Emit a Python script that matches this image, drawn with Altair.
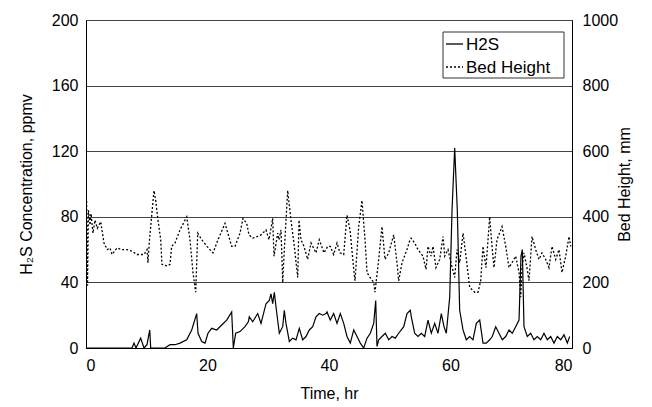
import altair as alt
import pandas as pd

# ---- H2S concentration (ppmv) vs time (hr) ----
h2s_time = [0, 7.24, 7.57, 7.9, 8.23, 9.0, 9.55, 10.04, 10.49, 10.65, 12.18, 13.0, 13.83, 14.65,
            15.47, 16.58, 17.4, 18.22, 18.44, 19.05, 19.59, 20.08, 20.69, 21.51, 22.34, 23.16,
            23.98, 24.25, 24.64, 25.35, 26.17, 26.72, 26.88, 27.44, 28.26, 28.81, 29.63, 30.17,
            30.45, 30.73, 31.0, 31.28, 31.82, 32.38, 32.64, 32.92, 33.47, 34.02, 34.57, 35.11,
            35.67, 36.21, 36.76, 37.32, 37.86, 38.4, 38.96, 39.51, 39.67, 40.21, 40.77, 41.32,
            41.86, 42.42, 42.96, 43.51, 44.07, 44.61, 45.15, 45.71, 46.26, 46.8, 47.36, 47.69,
            47.9, 48.18, 48.72, 49.27, 49.83, 50.37, 50.91, 51.47, 52.3, 52.84, 53.38, 53.55,
            54.1, 54.65, 55.19, 55.75, 56.3, 56.84, 57.4, 57.94, 58.49, 58.93, 59.31, 59.87,
            60.25, 60.69, 61.12, 61.51, 62.06, 62.6, 63.16, 63.7, 64.25, 64.81, 65.35, 65.89,
            66.45, 66.88, 67.44, 67.98, 68.53, 69.09, 69.63, 70.17, 70.73, 71.28, 71.6, 71.82,
            72.1, 72.64, 73.2, 73.74, 74.29, 74.85, 75.39, 75.93, 76.49, 77.04, 77.58, 78.14,
            78.68, 79.23, 79.62]
h2s_ppmv = [0, 0, 0, 3, 0, 6, 0, 2, 11, 0, 0, 0, 2, 2,
            3, 5, 11, 21, 9, 4, 3, 9, 12, 11, 14, 17,
            22, 0, 9, 10, 13, 16, 19, 16, 21, 15, 27, 29,
            33, 27, 34, 25, 9, 13, 23, 15, 4, 6, 5, 12,
            5, 7, 11, 13, 19, 21, 20, 21, 22, 17, 21, 15,
            21, 15, 7, 3, 11, 7, 3, 0, 6, 9, 15, 29,
            1, 5, 7, 9, 5, 7, 6, 9, 13, 21, 23, 19,
            9, 7, 9, 7, 17, 9, 15, 9, 21, 13, 9, 31,
            84, 122, 84, 23, 11, 5, 7, 5, 15, 17, 3, 3,
            5, 7, 13, 9, 5, 7, 11, 9, 13, 17, 56, 60,
            13, 7, 9, 5, 7, 5, 9, 5, 7, 3, 7, 5,
            8, 3, 7]

# ---- Bed height (mm) vs time (hr) ----
bed_time = [0.1, 0.25, 0.4, 0.66, 0.82, 1.15, 1.48, 1.86, 2.42, 2.96, 3.5, 3.95, 4.28, 5.1,
            5.93, 6.75, 7.57, 8.4, 9.55, 10.04, 10.2, 10.45, 11.19, 11.47, 11.85, 12.3, 12.5,
            13.33, 13.83, 14.1, 14.65, 15.47, 16.58, 17.12, 17.61, 18.06, 18.39, 19.05, 19.92,
            20.9, 21.73, 22.88, 23.98, 24.53, 25.35, 25.84, 26.45, 26.83, 27.44, 28.26, 28.81,
            29.63, 30.12, 30.73, 30.95, 31.56, 31.77, 32.1, 32.38, 32.59, 33.2, 33.74, 34.29,
            34.85, 35.06, 35.39, 35.88, 36.49, 37.04, 37.86, 38.4, 39.18, 39.79, 40.21, 40.77,
            41.32, 41.81, 42.42, 42.96, 43.46, 44.07, 44.28, 44.89, 45.43, 45.93, 46.26, 46.75,
            47.36, 47.57, 48.18, 48.72, 49.22, 49.83, 50.65, 51.19, 51.47, 52.02, 52.84, 53.33,
            53.5, 54.1, 54.65, 55.47, 55.97, 56.3, 56.79, 57.12, 57.61, 58.22, 58.77, 59.05,
            59.59, 60.08, 60.69, 61.07, 61.51, 62.06, 62.55, 63.16, 63.98, 64.53, 64.97, 65.35,
            65.84, 66.45, 66.88, 67.16, 67.65, 68.48, 69.09, 69.63, 70.12, 70.73, 71.28, 71.56,
            71.77, 72.1, 72.59, 72.92, 73.42, 74.02, 74.57, 75.06, 75.67, 76.21, 76.71, 77.32,
            77.86, 78.35, 78.96, 79.51, 79.79]
bed_mm = [448, 190, 420, 375, 410, 350, 390, 365, 385, 320, 300, 305, 285, 305,
          300, 300, 295, 285, 285, 300, 260, 330, 480, 450, 390, 330, 255,
          250, 255, 310, 320, 360, 400, 330, 230, 170, 350, 330, 310,
          290, 330, 380, 310, 310, 350, 395, 380, 345, 335, 340, 345,
          360, 330, 395, 280, 350, 330, 360, 200, 280, 480, 390, 310,
          215, 390, 330, 310, 270, 320, 290, 330, 290, 310, 310, 285,
          320, 290, 285, 405, 360, 240, 205, 370, 450, 330, 230, 215,
          200, 170, 270, 370, 270, 290, 345, 260, 205, 260, 300, 330,
          335, 320, 300, 280, 240, 310, 280, 310, 245, 270, 340, 280,
          300, 260, 215, 300, 260, 350, 280, 185, 170, 170, 205, 310,
          245, 400, 300, 245, 330, 370, 310, 245, 260, 280, 230, 155,
          245, 290, 245, 205, 340, 300, 270, 290, 270, 245, 310, 270,
          300, 230, 280, 340, 310]

# legend entries
legend_labels = ["H2S", "Bed Height"]

h2s_df = pd.DataFrame({"t": h2s_time, "v": h2s_ppmv})
bed_df = pd.DataFrame({"t": bed_time, "v": bed_mm})
one = pd.DataFrame({"k": [0]})

FONT = "Liberation Sans"

x_enc = alt.X("t:Q", scale=alt.Scale(domain=[0, 80], nice=False),
              axis=alt.Axis(values=[0, 20, 40, 60, 80], title="Time, hr", grid=False,
                            ticks=False, labelPadding=9, titleX=243, titleY=45,
                            titleBaseline="middle"))

h2s_line = alt.Chart(h2s_df).mark_line(color="black", strokeWidth=1.2).encode(
    x=x_enc,
    y=alt.Y("v:Q", scale=alt.Scale(domain=[0, 200], nice=False),
            axis=alt.Axis(values=[0, 40, 80, 120, 160, 200], title="H₂S Concentration, ppmv",
                          grid=True, gridColor="#444", gridWidth=1, ticks=False,
                          labelPadding=8, titleX=-60, titleY=164, titleAngle=270,
                          titleBaseline="middle")),
)

bed_line = alt.Chart(bed_df).mark_line(color="black", strokeWidth=1.3, strokeDash=[2, 2]).encode(
    x=x_enc,
    y=alt.Y("v:Q", scale=alt.Scale(domain=[0, 1000], nice=False),
            axis=alt.Axis(orient="right", values=[0, 200, 400, 600, 800, 1000], format="d",
                          title="Bed Height, mm", grid=False, ticks=False,
                          labelPadding=10, titleX=52, titleY=164, titleAngle=270,
                          titleBaseline="middle")),
)

# legend box (drawn as a guide, not data)
leg_box = alt.Chart(one).mark_rect(fill="white", stroke="#333", strokeWidth=1).encode(
    x=alt.value(357), x2=alt.value(478), y=alt.value(12), y2=alt.value(58))
leg_h2s = alt.Chart(one).mark_rule(color="black", strokeWidth=1.3).encode(
    x=alt.value(360), x2=alt.value(377), y=alt.value(24))
leg_bed = alt.Chart(one).mark_rule(color="black", strokeWidth=1.3, strokeDash=[2, 2]).encode(
    x=alt.value(360), x2=alt.value(377), y=alt.value(47))
leg_t1 = alt.Chart(one).mark_text(text=legend_labels[0], align="left", baseline="middle",
                                  font=FONT, fontSize=17, color="black").encode(
    x=alt.value(380), y=alt.value(25))
leg_t2 = alt.Chart(one).mark_text(text=legend_labels[1], align="left", baseline="middle",
                                  font=FONT, fontSize=17, color="black").encode(
    x=alt.value(380), y=alt.value(48))

chart = alt.layer(h2s_line, bed_line, leg_box, leg_h2s, leg_bed, leg_t1, leg_t2).resolve_scale(
    y="independent").properties(
    width=486, height=328,
    autosize=alt.AutoSizeParams(type="none"),
    padding={"left": 86, "top": 20, "right": 80, "bottom": 59},
    background="white",
).configure_view(stroke="black", strokeWidth=1).configure_axis(
    labelFont=FONT, titleFont=FONT, labelFontSize=16, titleFontSize=16,
    labelColor="black", titleColor="black", titleFontWeight="normal",
    domainColor="black", domainWidth=1,
)

chart.save("out.html", embed_options={"renderer": "svg", "actions": False})
